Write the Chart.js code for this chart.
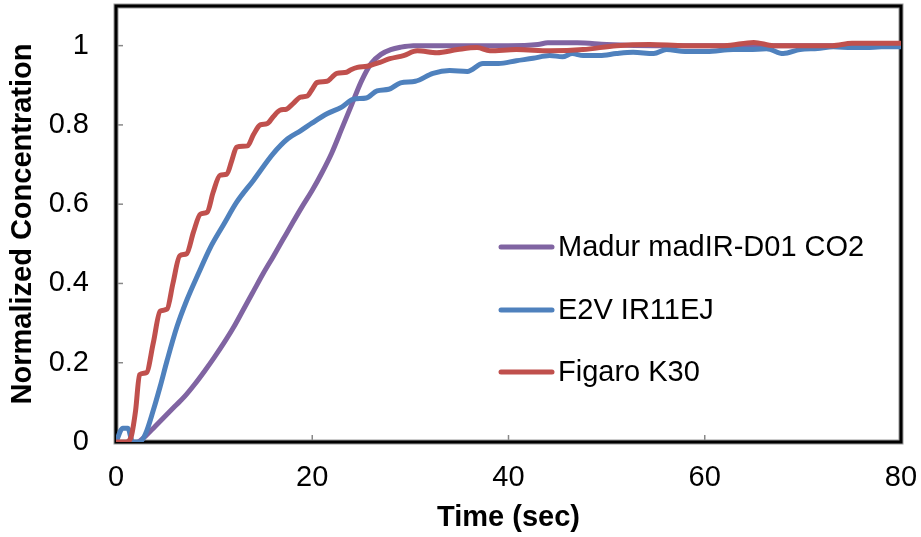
<!DOCTYPE html>
<html>
<head>
<meta charset="utf-8">
<script src="https://cdn.jsdelivr.net/npm/chart.js@4.4.1/dist/chart.umd.min.js"></script>
<style>
    html, body { margin: 0; padding: 0; background: #fff; }
    #wrap { width: 921px; height: 537px; position: relative; }
</style>
</head>
<body>
<div id="wrap"><canvas id="responseChart"></canvas></div>
<script>
// Series labels (legend order)
const seriesNames = ['Madur madIR-D01 CO2', 'E2V IR11EJ', 'Figaro K30'];

// Madur madIR-D01 CO2
const madurTime = [2.3, 3, 4, 5, 6, 7, 8, 9, 10, 11, 12, 13, 14, 15, 16, 17, 18, 19, 20, 21, 22, 23, 24, 25, 26, 27, 28, 29, 30.3, 35, 40, 43, 44, 47, 50, 55, 60, 70, 80];
const madurValues = [0, 0.015, 0.04, 0.065, 0.09, 0.115, 0.145, 0.178, 0.213, 0.25, 0.29, 0.335, 0.38, 0.425, 0.467, 0.51, 0.553, 0.595, 0.635, 0.68, 0.73, 0.79, 0.85, 0.91, 0.955, 0.978, 0.99, 0.996, 1.0, 1.0, 1.0, 1.003, 1.007, 1.007, 1.003, 1.0, 1.0, 1.0, 1.0];

// E2V IR11EJ
const e2vTime = [0, 0.7, 1.2, 1.7, 2.4, 3, 3.8, 4.5, 5.2, 6.2, 7.2, 8.4, 9.6, 11, 12.3, 14, 16, 17.5, 18.8, 20, 21.5, 23, 24.2, 25.5, 26.6, 27.8, 29, 30.5, 32.3, 34, 35.8, 37.4, 39, 40.8, 42.5, 44.2, 45.5, 46.5, 47.6, 49.3, 51, 52.7, 54.8, 56.1, 58, 60.2, 62.9, 64.5, 66.3, 68, 69.7, 71.5, 73.1, 75, 76.5, 78, 80];
const e2vValues = [0, 0.035, 0.035, 0, 0, 0.02, 0.08, 0.14, 0.205, 0.29, 0.357, 0.425, 0.49, 0.55, 0.605, 0.66, 0.727, 0.765, 0.785, 0.805, 0.828, 0.845, 0.865, 0.868, 0.886, 0.89, 0.906, 0.91, 0.93, 0.937, 0.935, 0.955, 0.955, 0.962, 0.968, 0.975, 0.972, 0.98, 0.975, 0.975, 0.98, 0.983, 0.98, 0.99, 0.985, 0.985, 0.99, 0.99, 0.992, 0.98, 0.99, 0.993, 0.997, 0.995, 0.995, 0.997, 0.997];

// Figaro K30
const figaroTime = [0, 1, 1.5, 2, 2.4, 3.1, 3.8, 4.5, 5.2, 5.8, 6.5, 7.2, 7.9, 8.6, 9.3, 9.9, 10.6, 11.3, 11.8, 12.3, 13.4, 14, 14.7, 15.4, 16, 16.7, 17.4, 18.1, 18.8, 19.5, 20, 20.5, 21.5, 22, 22.5, 23.5, 24, 24.6, 25.6, 26.9, 27.9, 29.3, 30.7, 32.7, 34.8, 36.8, 38.1, 40.8, 44.2, 47.6, 51, 54.4, 58, 62, 65, 67, 70, 73, 75, 77, 80];
const figaroValues = [0, 0, 0.01, 0.08, 0.17, 0.175, 0.25, 0.33, 0.335, 0.4, 0.47, 0.475, 0.53, 0.575, 0.58, 0.63, 0.673, 0.676, 0.71, 0.744, 0.747, 0.775, 0.8, 0.803, 0.82, 0.837, 0.84, 0.855, 0.87, 0.873, 0.89, 0.907, 0.91, 0.92, 0.93, 0.933, 0.94, 0.945, 0.948, 0.958, 0.967, 0.975, 0.987, 0.982, 0.99, 0.995, 0.987, 0.99, 0.987, 0.99, 1.0, 1.003, 1.0, 1.0, 1.008, 1.0, 1.0, 1.0, 1.006, 1.006, 1.006];

// Axis ticks
const xTicks = [0, 20, 40, 60, 80];
const yTicks = [0, 0.2, 0.4, 0.6, 0.8, 1];
const yTickLabels = ['0', '0.2', '0.4', '0.6', '0.8', '1'];

const colors = ['#8064A2', '#4F81BD', '#C0504D'];
const fontFamily = 'Arial, "Liberation Sans", sans-serif';

function toPoints(times, values) {
    return times.map((t, i) => ({ x: t, y: values[i] }));
}

// Frame with inward tick marks (under the lines), y labels and the legend inside the plot
const framePlugin = {
    id: 'frame',
    beforeDatasetsDraw(chart) {
        const ctx = chart.ctx;
        const a = chart.chartArea;
        const xs = chart.scales.x;
        const ys = chart.scales.y;
        ctx.save();
        ctx.strokeStyle = '#888';
        ctx.lineWidth = 1.5;
        yTicks.forEach(v => {
            const y = ys.getPixelForValue(v);
            ctx.beginPath();
            ctx.moveTo(a.left, y);
            ctx.lineTo(a.left + 7, y);
            ctx.stroke();
        });
        xTicks.forEach(v => {
            const x = xs.getPixelForValue(v);
            ctx.beginPath();
            ctx.moveTo(x, a.bottom);
            ctx.lineTo(x, a.bottom - 7);
            ctx.stroke();
        });
        ctx.strokeStyle = '#999';
        ctx.lineWidth = 5;
        ctx.strokeRect(a.left, a.top, a.right - a.left, a.bottom - a.top);
        ctx.strokeStyle = '#000';
        ctx.lineWidth = 3;
        ctx.strokeRect(a.left, a.top, a.right - a.left, a.bottom - a.top);

        // y tick labels, right aligned
        ctx.font = '29px ' + fontFamily;
        ctx.fillStyle = '#000';
        ctx.textAlign = 'right';
        ctx.textBaseline = 'middle';
        yTicks.forEach((v, i) => {
            ctx.fillText(yTickLabels[i], a.left - 27, ys.getPixelForValue(v));
        });
        ctx.restore();
    },
    afterDatasetsDraw(chart) {
        const ctx = chart.ctx;
        const rows = [247, 310, 372];
        ctx.save();
        ctx.font = '29px ' + fontFamily;
        ctx.textBaseline = 'middle';
        ctx.fillStyle = '#000';
        ctx.lineCap = 'round';
        seriesNames.forEach((name, i) => {
            ctx.strokeStyle = colors[i];
            ctx.lineWidth = 5;
            ctx.beginPath();
            ctx.moveTo(501, rows[i]);
            ctx.lineTo(552, rows[i]);
            ctx.stroke();
            ctx.fillText(name, 558, rows[i] + 1);
        });
        ctx.restore();
    }
};

const ctx = document.getElementById('responseChart').getContext('2d');
const seriesTimes = [madurTime, e2vTime, figaroTime];
const seriesValues = [madurValues, e2vValues, figaroValues];

new Chart(ctx, {
    type: 'line',
    data: {
        datasets: seriesNames.map((name, i) => ({
            label: name,
            data: toPoints(seriesTimes[i], seriesValues[i]),
            borderColor: colors[i],
            backgroundColor: colors[i],
            borderWidth: 5,
            pointRadius: 0,
            cubicInterpolationMode: 'monotone',
            borderCapStyle: 'round',
            borderJoinStyle: 'round',
            order: 3 - i,
            fill: false
        }))
    },
    options: {
        responsive: true,
        maintainAspectRatio: false,
        animation: false,
        layout: { padding: { left: 0, right: 20, top: 6, bottom: 0 } },
        plugins: {
            legend: { display: false },
            tooltip: { enabled: false }
        },
        scales: {
            x: {
                type: 'linear',
                min: 0,
                max: 80,
                afterFit: s => { s.height = 95; s.paddingLeft = 0; s.paddingRight = 0; },
                afterBuildTicks: s => { s.ticks = xTicks.map(v => ({ value: v })); },
                grid: { display: false },
                border: { display: false },
                ticks: {
                    color: '#000',
                    padding: 11,
                    maxRotation: 0,
                    font: { family: fontFamily, size: 29 }
                },
                title: {
                    display: true,
                    text: 'Time (sec)',
                    color: '#000',
                    padding: { top: 0, bottom: 2 },
                    font: { family: fontFamily, size: 29, weight: 'bold' }
                }
            },
            y: {
                min: 0,
                max: 1.1,
                afterFit: s => { s.width = 116; s.paddingTop = 0; s.paddingBottom = 0; },
                afterBuildTicks: s => { s.ticks = yTicks.map(v => ({ value: v })); },
                grid: { display: false },
                border: { display: false },
                ticks: { display: false },
                title: {
                    display: true,
                    text: 'Normalized Concentration',
                    color: '#000',
                    padding: { top: 6, bottom: 0 },
                    font: { family: fontFamily, size: 29, weight: 'bold' }
                }
            }
        }
    },
    plugins: [framePlugin]
});
</script>
</body>
</html>
